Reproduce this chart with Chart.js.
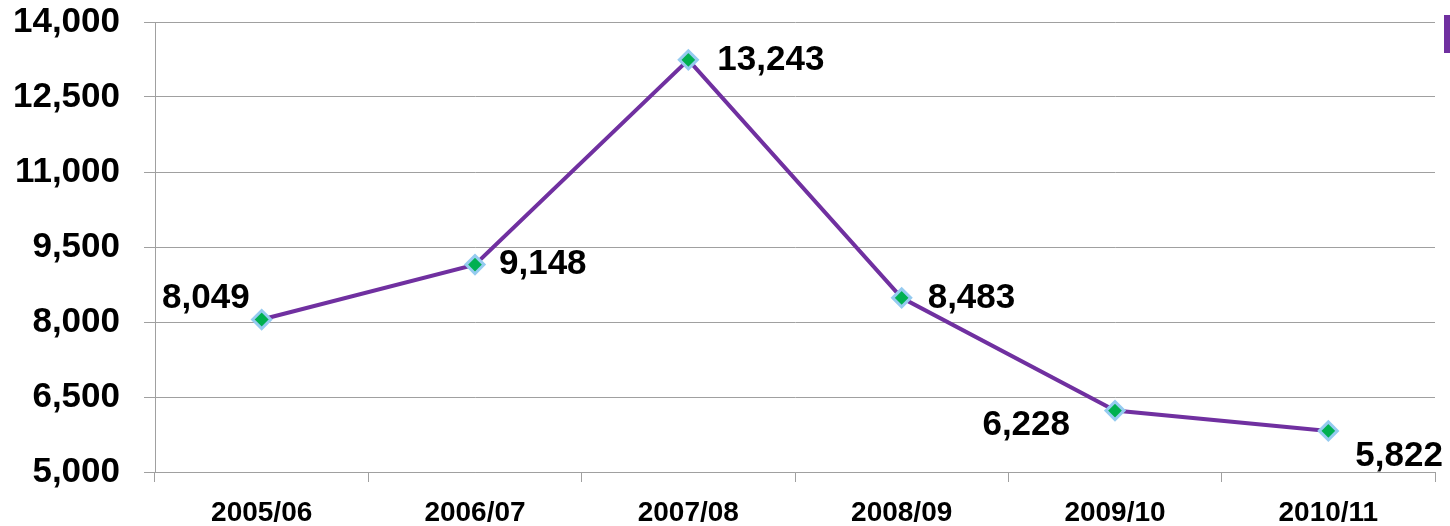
<!DOCTYPE html>
<html>
<head>
<meta charset="utf-8">
<script src="https://cdn.jsdelivr.net/npm/chart.js@4/dist/chart.umd.min.js"></script>
<style>
  body { margin: 0; background: #fff; }
  #wrap { position: relative; width: 1450px; height: 526px; }
  #tag { position: absolute; left: 1444px; top: 15px; width: 7px; height: 38px; background: #7030A0; }
</style>
</head>
<body>
<div id="wrap">
  <canvas id="myChart" width="1450" height="526"></canvas>
  <div id="tag"></div>
</div>
<script>
// values
const years = ["2005/06", "2006/07", "2007/08", "2008/09", "2009/10", "2010/11"];
const counts = [8049, 9148, 13243, 8483, 6228, 5822];
const yMin = 5000;
const yMax = 14000;
const yStep = 1500;

// where each value label sits next to its point (dx, dy, align)
const labelPos = [
  [-12, -21, "right"],
  [24, 0, "left"],
  [29, 0, "left"],
  [26, 0, "left"],
  [-45, 15, "right"],
  [27, 25, "left"]
];

const fmt = v => v.toLocaleString("en-US");

const valueLabels = {
  id: "valueLabels",
  afterDatasetsDraw(chart) {
    let ctx = chart.ctx;
    let meta = chart.getDatasetMeta(0);
    ctx.save();
    ctx.font = "bold 35px 'Liberation Sans', Arial, sans-serif";
    ctx.fillStyle = "#000";
    ctx.textBaseline = "middle";
    meta.data.forEach((pt, i) => {
      let p = labelPos[i];
      ctx.textAlign = p[2];
      ctx.fillText(fmt(counts[i]), pt.x + p[0], pt.y + p[1]);
    });
    ctx.restore();
  }
};

const data = {
  labels: years,
  datasets: [{
    data: counts,
    borderColor: "#7030A0",
    borderWidth: 4,
    tension: 0,
    pointStyle: "rectRot",
    pointRadius: 9,
    pointHoverRadius: 9,
    pointBackgroundColor: "#00B050",
    pointBorderColor: "#95CBF0",
    pointBorderWidth: 3
  }]
};

const config = {
  type: "line",
  data: data,
  plugins: [valueLabels],
  options: {
    responsive: false,
    animation: false,
    layout: { padding: { top: 0, right: 15, left: 0, bottom: 0 } },
    plugins: { legend: { display: false }, tooltip: { enabled: false } },
    scales: {
      x: {
        offset: true,
        grid: { offset: true, drawOnChartArea: false, color: "#A0A0A0", tickLength: 10 },
        border: { color: "#A0A0A0", width: 1 },
        ticks: {
          color: "#000",
          padding: 14,
          maxRotation: 0,
          font: { family: "'Liberation Sans', Arial, sans-serif", size: 28, weight: "bold" }
        },
        afterFit(scale) { scale.height = 54; }
      },
      y: {
        min: yMin,
        max: yMax,
        grid: { color: "#A0A0A0", tickLength: 11 },
        border: { color: "#A0A0A0", width: 1 },
        ticks: {
          stepSize: yStep,
          color: "#000",
          padding: 24,
          callback: v => fmt(v),
          font: { family: "'Liberation Sans', Arial, sans-serif", size: 35, weight: "bold" }
        },
        afterFit(scale) {
          scale.width = 155;
          scale.paddingTop = 22;
          scale.paddingBottom = 0;
        }
      }
    }
  }
};

let canvasChart = document.getElementById("myChart");
new Chart(canvasChart, config);
</script>
</body>
</html>
